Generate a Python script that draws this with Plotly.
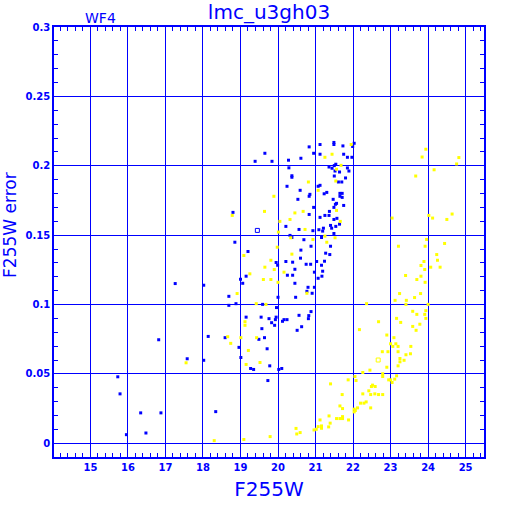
import plotly.graph_objects as go

# ---- data (F255W magnitude vs. F255W error) ----
blue_x = [20.83,21.12,21.49,21.49,21.73,22.03,21.99,19.65,20.95,21.12,21.75,19.39,19.84,20.28,20.61,21.85,21.97,
          21.54,21.50,21.36,21.44,21.85,20.29,21.52,21.64,21.89,20.37,20.37,21.50,21.80,21.61,21.70,21.12,21.07,
          20.24,20.59,21.30,21.23,20.85,20.83,21.65,21.71,21.65,21.71,20.53,21.47,21.56,21.53,21.75,20.95,21.49,
          21.37,18.80,20.83,21.25,21.36,21.12,21.57,21.49,21.64,21.40,21.43,21.54,20.21,20.93,21.21,21.09,21.19,
          20.56,21.49,20.32,20.37,21.16,20.69,18.85,21.40,20.88,20.61,19.20,21.27,21.38,20.60,21.24,21.03,20.21,
          20.39,19.95,19.99,20.75,20.87,21.16,20.45,21.19,20.97,20.25,20.39,19.15,21.17,21.07,19.00,19.06,20.45,
          18.02,20.80,20.97,17.26,20.77,20.91,20.00,20.47,18.69,18.88,18.69,19.59,19.96,19.15,19.55,19.95,19.76,
          19.93,20.16,20.12,20.24,20.56,20.82,20.88,20.81,19.83,19.91,20.63,19.57,20.51,18.14,18.59,19.49,19.64,
          18.96,19.71,19.01,17.58,18.02,19.78,19.27,19.35,20.02,20.10,19.73,18.34,16.82,15.73,15.79,16.34,16.88,
          15.96,16.48]
blue_y = [0.2136,0.2153,0.2168,0.2153,0.2143,0.2162,0.2139,0.2090,0.2090,0.2083,0.2083,0.2032,0.2032,0.2040,0.2054,
          0.2061,0.2061,0.2011,0.2001,0.1991,0.1982,0.1984,0.1985,0.1962,0.1955,0.1962,0.1917,0.1928,0.1926,0.1912,
          0.1883,0.1883,0.1859,0.1852,0.1852,0.1823,0.1808,0.1798,0.1794,0.1780,0.1801,0.1801,0.1780,0.1772,0.1758,
          0.1758,0.1729,0.1722,0.1714,0.1700,0.1700,0.1671,0.1664,0.1649,0.1642,0.1642,0.1628,0.1621,0.1613,0.1579,
          0.1570,0.1550,0.1563,0.1563,0.1532,0.1550,0.1539,0.1529,0.1541,0.1512,0.1498,0.1483,0.1483,0.1467,0.1449,
          0.1420,0.1420,0.1392,0.1382,0.1370,0.1360,0.1334,0.1312,0.1310,0.1310,0.1305,0.1303,0.1283,0.1290,0.1290,
          0.1283,0.1254,0.1240,0.1233,0.1211,0.1211,0.1204,0.1204,0.1189,0.1182,0.1153,0.1153,0.1139,0.1124,0.1124,
          0.1151,0.1095,0.1081,0.1052,0.1052,0.1059,0.1006,0.0994,0.1001,0.0978,0.0909,0.0909,0.0909,0.0898,0.0891,
          0.0891,0.0879,0.0891,0.0922,0.0920,0.0949,0.0898,0.0869,0.0850,0.0840,0.0826,0.0814,0.0770,0.0761,0.0749,
          0.0761,0.0691,0.0681,0.0618,0.0609,0.0598,0.0558,0.0539,0.0532,0.0532,0.0539,0.0452,0.0228,0.0746,0.0479,
          0.0356,0.0219,0.0219,0.0062,0.0074]
blue_open_x = [19.45]
blue_open_y = [0.1534]

yellow_x = [21.95,21.44,21.25,21.68,21.56,20.81,21.54,21.07,19.89,21.56,19.64,20.45,20.67,18.78,20.32,20.05,21.66,
            20.72,20.01,21.25,21.52,20.34,20.93,21.30,19.98,20.37,19.09,19.81,19.65,19.90,20.16,19.25,19.61,19.81,
            20.00,18.91,19.42,19.68,20.77,19.12,19.12,18.66,19.01,19.43,18.74,19.21,19.52,19.15,17.55,18.30,19.09,
            19.79,20.48,20.59,20.50,20.96,21.02,21.16,21.16,21.07,21.35,21.12,21.36,21.39,21.56,21.65,21.72,21.72,
            21.88,21.65,21.72,22.03,22.03,22.06,22.12,22.47,22.20,22.29,22.35,21.71,22.26,22.47,22.58,22.68,22.79,
            22.42,22.52,22.49,22.59,21.40,21.87,22.05,22.08,22.26,22.45,22.79,22.79,23.16,22.95,23.00,23.04,23.11,
            22.90,23.20,23.25,23.25,23.36,23.41,23.53,22.78,22.93,23.20,23.06,23.20,23.54,23.00,23.14,23.09,22.90,
            22.17,23.68,23.59,23.78,22.68,23.27,23.16,23.94,23.70,23.91,23.59,23.94,22.36,23.41,24.00,23.42,23.12,
            23.24,23.80,23.64,23.92,23.70,23.81,23.40,23.91,23.81,24.07,24.32,23.89,24.25,24.23,23.21,23.92,24.44,
            23.96,24.50,24.64,24.02,24.12,23.04,23.67,24.16,23.94,23.84,24.82,24.76]
yellow_y = [0.2153,0.2083,0.2061,0.2003,0.1975,0.1883,0.1890,0.1823,0.1780,0.1678,0.1671,0.1660,0.1671,0.1642,0.1613,
            0.1599,0.1599,0.1541,0.1522,0.1493,0.1481,0.1481,0.1469,0.1449,0.1413,0.1363,0.1353,0.1319,0.1269,0.1252,
            0.1233,0.1221,0.1180,0.1180,0.1160,0.1079,0.1006,0.1001,0.1081,0.0876,0.0850,0.0768,0.0761,0.0761,0.0720,
            0.0669,0.0582,0.0568,0.0580,0.0019,0.0027,0.0048,0.0107,0.0077,0.0067,0.0096,0.0101,0.0125,0.0108,0.0120,
            0.0118,0.0168,0.0197,0.0145,0.0178,0.0178,0.0178,0.0192,0.0168,0.0269,0.0250,0.0246,0.0226,0.0236,0.0255,
            0.0255,0.0289,0.0289,0.0298,0.0351,0.0356,0.0351,0.0356,0.0351,0.0351,0.0378,0.0419,0.0409,0.0409,0.0428,
            0.0457,0.0481,0.0452,0.0510,0.0527,0.0501,0.0481,0.0486,0.0457,0.0457,0.0438,0.0462,0.0548,0.0558,0.0611,
            0.0587,0.0598,0.0638,0.0645,0.0660,0.0660,0.0660,0.0698,0.0698,0.0698,0.0717,0.0717,0.0761,0.0780,0.0819,
            0.0814,0.0842,0.0858,0.0876,0.0871,0.0900,0.0900,0.0929,0.0929,0.0951,0.0956,0.1006,0.1001,0.1001,0.1030,
            0.1030,0.1079,0.1079,0.1050,0.1160,0.1180,0.1204,0.1209,0.1252,0.1281,0.1269,0.1269,0.1310,0.1319,0.1360,
            0.1420,0.1420,0.1440,0.1469,0.1613,0.1652,0.1642,0.1623,0.1623,0.1926,0.1971,0.2119,0.2063,0.2059,0.2013]
yellow_open_x = [22.67]
yellow_open_y = [0.0600]

title_text = "lmc_u3gh03"
chip_label = "WF4"
x_title = "F255W"
y_title = "F255W error"

BLUE = "#0000FF"
YELLOW = "#FFFF00"

fig = go.Figure()
fig.add_trace(go.Scatter(x=blue_x, y=blue_y, mode="markers",
                         marker=dict(symbol="square", size=3, color=BLUE, line=dict(width=0)),
                         showlegend=False))
fig.add_trace(go.Scatter(x=blue_open_x, y=blue_open_y, mode="markers",
                         marker=dict(symbol="square-open", size=4, color=BLUE, line=dict(width=1)),
                         showlegend=False))
fig.add_trace(go.Scatter(x=yellow_x, y=yellow_y, mode="markers",
                         marker=dict(symbol="square", size=3, color=YELLOW, line=dict(width=0)),
                         showlegend=False))
fig.add_trace(go.Scatter(x=yellow_open_x, y=yellow_open_y, mode="markers",
                         marker=dict(symbol="square-open", size=4, color=YELLOW, line=dict(width=1)),
                         showlegend=False))

tickfont = dict(family="DejaVu Sans", size=10, color=BLUE, weight="bold")
axis_common = dict(
    showline=True, linecolor=BLUE, linewidth=1.5, mirror="allticks",
    showgrid=True, gridcolor=BLUE, gridwidth=1,
    ticks="inside", ticklen=6, tickcolor=BLUE, tickwidth=1,
    zeroline=False, tickfont=tickfont,
)

W = H = 512
fig.update_xaxes(range=[14.03, 25.49], dtick=1, tick0=0,
                 minor=dict(ticks="inside", dtick=0.2, tick0=0, ticklen=4, tickcolor=BLUE, showgrid=False),
                 title=dict(text=x_title, font=dict(family="DejaVu Sans", size=20, color=BLUE), standoff=10),
                 **axis_common)
fig.update_yaxes(range=[-0.0099, 0.3], dtick=0.05, tick0=0,
                 minor=dict(ticks="inside", dtick=0.01, tick0=0, ticklen=4, tickcolor=BLUE, showgrid=False),
                 **axis_common)

fig.update_layout(
    width=W, height=H,
    margin=dict(l=54, r=28, t=27, b=55, autoexpand=False),
    paper_bgcolor="white", plot_bgcolor="white",
    title=dict(text=title_text, x=0.5, xref="paper", y=1 - 12/H, yref="container",
               xanchor="center", yanchor="middle",
               font=dict(family="DejaVu Sans", size=20, color=BLUE)),
    annotations=[
        dict(text=chip_label, xref="paper", yref="paper", x=0.107, y=1.021,
             xanchor="center", yanchor="middle", showarrow=False,
             font=dict(family="DejaVu Sans", size=14, color=BLUE)),
        dict(text=y_title, xref="paper", yref="paper", x=-0.102, y=0.54,
             xanchor="center", yanchor="middle", textangle=-90, showarrow=False,
             font=dict(family="DejaVu Sans", size=17, color=BLUE)),
    ],
)

# remove the browser's default 8px body margin so the 512x512 figure fills the window
fig.write_html("out.html", config={"displayModeBar": False},
               post_script="document.body.style.margin='0';")
